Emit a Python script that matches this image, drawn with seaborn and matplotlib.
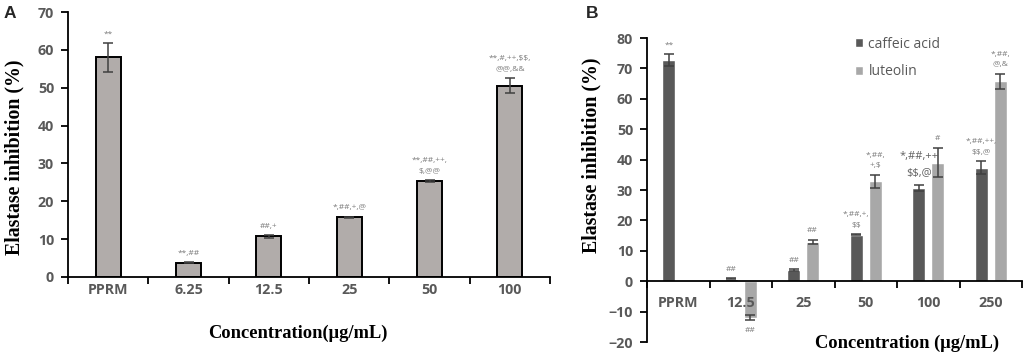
import numpy as np
import pandas as pd
import matplotlib
matplotlib.use("Agg")
import matplotlib.pyplot as plt
import seaborn as sns

# ---------------- data ----------------
a_categories = ["PPRM", "6.25", "12.5", "25", "50", "100"]
a_values = [58.0, 3.8, 10.7, 15.8, 25.3, 50.5]
a_errors = [3.8, 0.1, 0.3, 0.1, 0.3, 2.0]
a_labels = ["**", "**,##", "##,+", "*,##,+,@", "**,##,++,\n$,@@", "**,#,++,$$,\n@@,&&"]

b_categories = ["PPRM", "12.5", "25", "50", "100", "250"]
b_caffeic = [72.8, 0.8, 3.7, 15.3, 30.8, 37.4]
b_caffeic_err = [2.0, 0.2, 0.2, 0.2, 1.0, 2.1]
b_luteolin = [np.nan, -12.0, 13.0, 32.8, 39.0, 65.8]
b_luteolin_err = [np.nan, 0.9, 0.6, 2.2, 4.8, 2.5]
b_caffeic_labels = ["**", "##", "##", "*,##,+,\n$$", "*,##,++\n$$,@", "*,##,++,\n$$,@"]
b_luteolin_labels = ["", "##", "##", "*,##,\n+,$", "#", "*,##,\n@,&"]
series_names = ["caffeic acid", "luteolin"]

# ---------------- style ----------------
sns.set_style("white")
plt.rcParams["font.family"] = ["Open Sans", "DejaVu Sans"]
plt.rcParams["text.parse_math"] = False
TICK_C = "#595959"
ANN_C = "#7a7a7a"
ERR_C = "#404040"
SERIF = ["Liberation Serif", "DejaVu Serif"]

fig = plt.figure(figsize=(10.24, 3.57), dpi=100)
axA = fig.add_axes([68 / 1024, 1 - 277 / 357, (550 - 68) / 1024, (277 - 12) / 357])
axB = fig.add_axes([647 / 1024, 1 - 342 / 357, (1022 - 647) / 1024, (342 - 38) / 357])

# ---------------- panel A ----------------
dfA = pd.DataFrame({"conc": a_categories, "value": a_values})
sns.barplot(data=dfA, x="conc", y="value", order=a_categories, color="#b1acaa",
            edgecolor="black", linewidth=1.4, width=0.31, errorbar=None,
            saturation=1, ax=axA)
xs = np.arange(len(a_categories))
axA.errorbar(xs, a_values, yerr=a_errors, fmt="none", ecolor=ERR_C,
             elinewidth=1.1, capsize=3.5, capthick=1.1, zorder=5)
for x, v, e, t in zip(xs, a_values, a_errors, a_labels):
    axA.annotate(t, (x, v + e), xytext=(0, 4), textcoords="offset points",
                 ha="center", va="bottom", fontsize=6, color=ANN_C, linespacing=1.7)

axA.set_ylim(0, 70)
axA.set_xlim(-0.5, 5.5)
axA.set_yticks(np.arange(0, 71, 10))

# ---------------- panel B ----------------
dfB = pd.DataFrame({
    "conc": b_categories * 2,
    "series": [series_names[0]] * len(b_categories) + [series_names[1]] * len(b_categories),
    "value": b_caffeic + b_luteolin,
})
palette = {series_names[0]: "#595959", series_names[1]: "#a8a8a8"}
sns.barplot(data=dfB, x="conc", y="value", hue="series", order=b_categories,
            hue_order=series_names, palette=palette, width=0.6, gap=0.3,
            errorbar=None, saturation=1, ax=axB)

err_map = {series_names[0]: b_caffeic_err, series_names[1]: b_luteolin_err}
lab_map = {series_names[0]: b_caffeic_labels, series_names[1]: b_luteolin_labels}
for cont, name in zip(axB.containers, series_names):
    for bar in cont:
        xc = bar.get_x() + bar.get_width() / 2
        idx = int(round(xc))
        h = bar.get_height()
        if np.isnan(h):
            continue
        e = err_map[name][idx]
        axB.errorbar([xc], [h], yerr=[e], fmt="none", ecolor=ERR_C,
                     elinewidth=1.1, capsize=3.5, capthick=1.1, zorder=5)
        t = lab_map[name][idx]
        if not t:
            continue
        big = (name == series_names[0] and idx == 4)
        if h >= 0:
            axB.annotate(t, (xc, h + e), xytext=(0, 4), textcoords="offset points",
                         ha="center", va="bottom", fontsize=8 if big else 6,
                         color="#606060" if big else ANN_C, linespacing=1.7)
        else:
            axB.annotate(t, (xc, h - e), xytext=(0, -5), textcoords="offset points",
                         ha="center", va="top", fontsize=6, color=ANN_C)

axB.set_ylim(-20, 80)
axB.set_xlim(-0.5, 5.5)
axB.set_yticks(np.arange(-20, 81, 10))
axB.spines["bottom"].set_position(("data", 0))
axB.set_axisbelow(False)

handles, labels = axB.get_legend_handles_labels()
if axB.get_legend() is not None:
    axB.get_legend().remove()
fig.legend(handles, labels, loc="upper left", bbox_to_anchor=(842 / 1024, 1 - 24 / 357),
           frameon=False, handlelength=0.6, handleheight=0.6, handletextpad=0.4,
           labelspacing=0.9, prop={"family": "Open Sans", "size": 10}, labelcolor=TICK_C)

# ---------------- common axis styling ----------------
for ax, cats in ((axA, a_categories), (axB, b_categories)):
    for s in ("top", "right"):
        ax.spines[s].set_visible(False)
    for s in ("left", "bottom"):
        ax.spines[s].set_color("black")
        ax.spines[s].set_linewidth(1.3)
    ax.set_xticks(np.arange(len(cats)))
    ax.set_xticklabels(cats)
    ax.set_xticks(np.arange(-0.5, len(cats), 1.0), minor=True)
    ax.tick_params(axis="x", which="major", length=0,
                   pad=4 if ax is axA else 11)
    ax.tick_params(axis="x", which="minor", length=5, width=1.3, color="black",
                   direction="out", bottom=True)
    ax.tick_params(axis="y", which="major", length=5, width=1.3, color="black",
                   direction="out", left=True, pad=5)
    for lbl in ax.get_xticklabels() + ax.get_yticklabels():
        lbl.set_fontsize(10.3)
        lbl.set_fontweight("bold")
        lbl.set_color(TICK_C)
    ax.set_ylabel("Elastase inhibition (%)", family=SERIF,
                  fontweight="bold", fontsize=14.3, color="black")
    ax.grid(False)

axA.set_xlabel("Concentration(\u03bcg/mL)", family=SERIF,
               fontweight="bold", fontsize=13.3, color="black")
axB.set_xlabel("Concentration (\u03bcg/mL)", family=SERIF,
               fontweight="bold", fontsize=13.3, color="black")
axA.xaxis.label.set_va("center")
axB.xaxis.label.set_va("center")
axA.xaxis.set_label_coords((298 - 68) / 482, (277 - 333) / 265)
axB.xaxis.set_label_coords((907 - 647) / 375, (342 - 343) / 304)
axA.yaxis.label.set_va("center")
axB.yaxis.label.set_va("center")
axA.yaxis.set_label_coords((14 - 68) / 482, (277 - 157) / 265)
axB.yaxis.set_label_coords((591 - 647) / 375, (342 - 155) / 304)

fig.text(10 / 1024, 1 - 14 / 357, "A", family=["Liberation Sans", "DejaVu Sans"],
         fontweight="bold", fontsize=12.5, ha="center", va="center")
fig.text(592 / 1024, 1 - 14 / 357, "B", family=["Liberation Sans", "DejaVu Sans"],
         fontweight="bold", fontsize=12.5, ha="center", va="center")

fig.savefig("out.png", dpi=100)
